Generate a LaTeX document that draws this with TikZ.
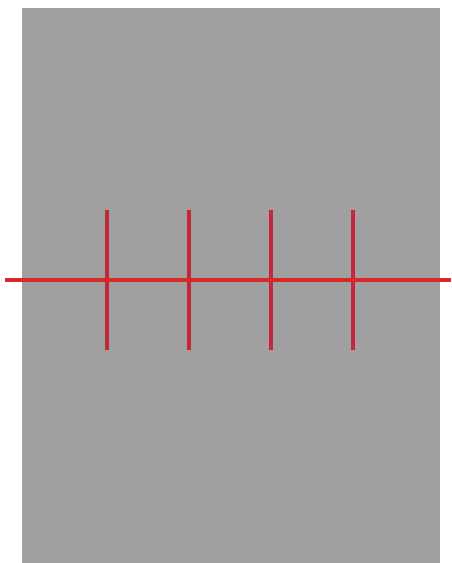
\documentclass[tikz,border=0pt]{standalone}
\definecolor{bggray}{RGB}{160,160,160}
\definecolor{hred}{RGB}{214,40,40}
\definecolor{vred}{RGB}{196,38,60}
\begin{document}
\begin{tikzpicture}[x=1pt,y=-1pt,
  redline/.style={draw=hred,line width=3.5pt},
  tick/.style={draw=vred,line width=3.5pt}]
\useasboundingbox (0,0) rectangle (451,563);
\fill[white] (0,0) rectangle (451,563);
\fill[bggray] (22,8) rectangle (440,563);
\foreach \x in {107,189,271,353} {
  \draw[tick] (\x,210) -- (\x,350);
}
\coordinate (L) at (5,280);
\coordinate (R) at (451,280);
\draw[redline] (L) -- (R);
\end{tikzpicture}
\end{document}
